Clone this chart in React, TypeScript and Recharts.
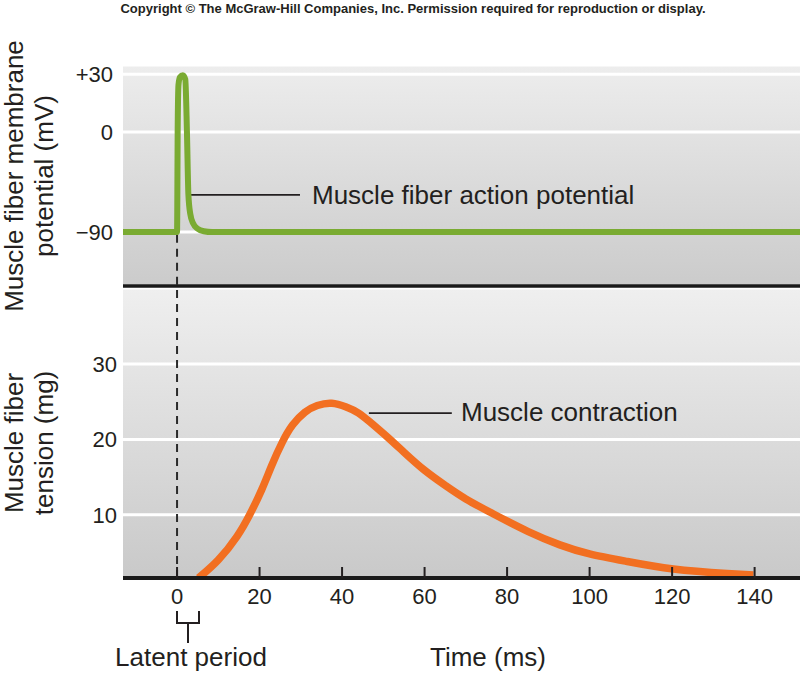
import React from "react";
import { LineChart, Line, XAxis, YAxis, CartesianGrid, ReferenceLine } from "recharts";

// action potential (ms, mV)
const apTime = [-13.1, 0, 0.05, 0.15, 0.35, 0.7, 1.4, 2.0, 2.4, 2.75, 3.2, 3.9, 5, 6.5, 8.5, 151];
const apMv = [-90, -90, -60, 0, 20, 27, 29, 25, 0, -35, -60, -75, -84, -88.5, -90, -90];

// twitch tension (ms, mg)
const twitchTime = [5.2, 10, 14.5, 17.6, 20.5, 23, 25.5, 28, 31, 34, 37.5, 41, 44, 47, 50.8, 55, 60, 65, 70, 76.7, 85, 92.8, 100, 109, 120.3, 133.3, 139.7];
const twitchMg = [1.6, 4, 7.1, 10, 13.3, 16.6, 19.6, 21.9, 23.6, 24.5, 24.8, 24.3, 23.5, 22.2, 20.4, 18.3, 15.9, 13.9, 12.1, 10.1, 7.8, 6, 4.8, 3.8, 2.8, 2.2, 2.0];

const timeTicks = [0, 20, 40, 60, 80, 100, 120, 140];
const mvTicks = [-90, 0, 30];
const mgTicks = [10, 20, 30];

const apData = apTime.map((t, i) => ({ t, mv: apMv[i] }));
const twitchData = twitchTime.map((t, i) => ({ t, mg: twitchMg[i] }));

const FONT = "'Liberation Sans', Arial, Helvetica, sans-serif";
const INK = "#231f20";
const GREEN = "#7aab32";
const ORANGE = "#f26f21";
const X_DOMAIN: [number, number] = [-13.1, 151];

const fmtMv = (v: number) => (v > 0 ? `+${v}` : v < 0 ? `\u2212${Math.abs(v)}` : "0");

function TimeTick({ x, y, payload }: any) {
  return (
    <g>
      <line x1={x} x2={x} y1={y - 11} y2={y} stroke={INK} strokeWidth={2} />
      <text x={x} y={y + 26} textAnchor="middle" fill={INK} fontSize={22} fontFamily={FONT}>
        {payload.value}
      </text>
    </g>
  );
}

export default function App() {
  const tickStyle = { fill: INK, fontSize: 22, fontFamily: FONT };
  return (
    <div style={{ position: "absolute", left: 0, top: 0, width: 800, height: 679, background: "#fff", fontFamily: FONT }}>
      <div style={{ position: "absolute", left: 0, top: 0 }}>
        <LineChart width={800} height={288} data={apData} margin={{ top: 65, right: 0, bottom: 0, left: 0 }}>
          <defs>
            <linearGradient id="gTop" x1="0" y1="0" x2="0" y2="1">
              <stop offset="0%" stopColor="#ededed" />
              <stop offset="100%" stopColor="#cbcbcb" />
            </linearGradient>
          </defs>
          <CartesianGrid vertical={false} stroke="#ffffff" strokeWidth={3} fill="url(#gTop)" fillOpacity={1} />
          <XAxis
            type="number"
            dataKey="t"
            domain={X_DOMAIN}
            allowDataOverflow
            height={2}
            tick={false}
            tickLine={false}
            axisLine={{ stroke: "#1a1a1a", strokeWidth: 3.5 }}
          />
          <YAxis
            type="number"
            scale="sqrt"
            domain={[-213, 40.4]}
            allowDataOverflow
            ticks={mvTicks}
            tickFormatter={fmtMv}
            width={123}
            tickSize={0}
            tickMargin={10}
            tickLine={false}
            axisLine={false}
            tick={tickStyle}
          />
          <ReferenceLine
            segment={[{ x: 0, y: -95 }, { x: 0, y: -213 }]}
            stroke="#2a2a2a"
            strokeWidth={2}
            strokeDasharray="8 6"
          />
          <ReferenceLine
            segment={[{ x: 3.3, y: -35.5 }, { x: 29.8, y: -35.5 }]}
            stroke={INK}
            strokeWidth={1.8}
          />
          <Line
            type="monotone"
            dataKey="mv"
            stroke={GREEN}
            strokeWidth={6}
            dot={false}
            isAnimationActive={false}
          />
        </LineChart>
      </div>

      <div style={{ position: "absolute", left: 0, top: 288 }}>
        <LineChart width={800} height={391} data={twitchData} margin={{ top: 0, right: 0, bottom: 0, left: 0 }}>
          <defs>
            <linearGradient id="gBottom" x1="0" y1="0" x2="0" y2="1">
              <stop offset="0%" stopColor="#efefef" />
              <stop offset="100%" stopColor="#c9c9c9" />
            </linearGradient>
          </defs>
          <CartesianGrid vertical={false} stroke="#ffffff" strokeWidth={3} fill="url(#gBottom)" fillOpacity={1} />
          <XAxis
            type="number"
            dataKey="t"
            domain={X_DOMAIN}
            allowDataOverflow
            ticks={timeTicks}
            height={101}
            tickSize={0}
            tickMargin={0}
            tickLine={false}
            tick={<TimeTick />}
            axisLine={{ stroke: "#1a1a1a", strokeWidth: 4 }}
          />
          <YAxis
            type="number"
            domain={[1.6, 40.1]}
            allowDataOverflow
            ticks={mgTicks}
            width={123}
            tickSize={0}
            tickMargin={6}
            tickLine={false}
            axisLine={false}
            tick={tickStyle}
          />
          <ReferenceLine x={0} stroke="#2a2a2a" strokeWidth={2} strokeDasharray="8 6" />
          <ReferenceLine
            segment={[{ x: 46.5, y: 23.5 }, { x: 66.6, y: 23.5 }]}
            stroke={INK}
            strokeWidth={1.8}
          />
          <Line
            type="natural"
            dataKey="mg"
            stroke={ORANGE}
            strokeWidth={7.5}
            dot={false}
            isAnimationActive={false}
          />
        </LineChart>
      </div>

      <svg
        width={800}
        height={679}
        style={{ position: "absolute", left: 0, top: 0, pointerEvents: "none" }}
        fontFamily={FONT}
        fill={INK}
      >
        <text x={413} y={13} textAnchor="middle" fontSize={13} fontWeight="bold">
          Copyright © The McGraw-Hill Companies, Inc. Permission required for reproduction or display.
        </text>

        <g fontSize={26} textAnchor="middle">
          <text transform="translate(23,176) rotate(-90)">Muscle fiber membrane</text>
          <text transform="translate(53,176) rotate(-90)">potential (mV)</text>
          <text transform="translate(23,443) rotate(-90)">Muscle fiber</text>
          <text transform="translate(53,443) rotate(-90)">tension (mg)</text>
        </g>

        <text x={312} y={204} fontSize={26}>Muscle fiber action potential</text>
        <text x={461} y={421} fontSize={26}>Muscle contraction</text>

        <path d="M177 611 V623 H199 V611 M188 623 V643" stroke={INK} strokeWidth={2} fill="none" />
        <text x={191} y={666} fontSize={26} textAnchor="middle">Latent period</text>
        <text x={488} y={666} fontSize={26} textAnchor="middle">Time (ms)</text>
      </svg>
    </div>
  );
}
